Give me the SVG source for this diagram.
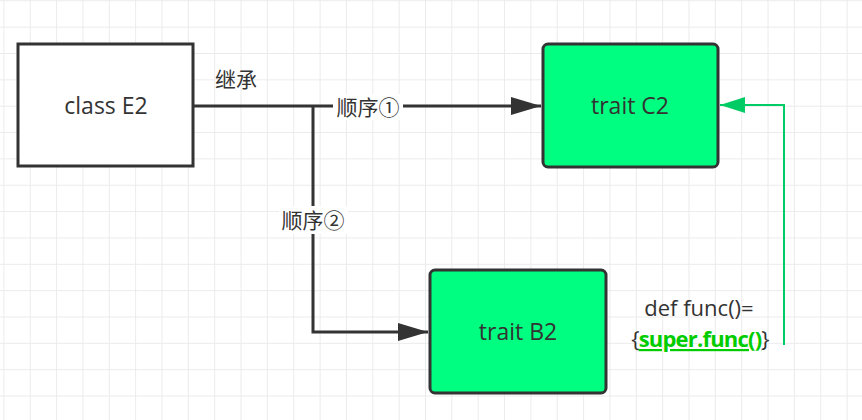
<svg xmlns="http://www.w3.org/2000/svg" width="862" height="420" viewBox="0 0 862 420">
<defs>
<pattern id="grid" x="3.4" y="0.3" width="26.35" height="26.35" patternUnits="userSpaceOnUse">
<path d="M0 0 V26.35 M0 0 H26.35" fill="none" stroke="#ebebeb" stroke-width="2"/>
</pattern>
<marker id="ah" markerWidth="10" markerHeight="6" refX="10" refY="3" orient="auto" markerUnits="strokeWidth">
<path d="M0 0 L10 3 L0 6 Z" fill="#333"/>
</marker>
<marker id="ahg" markerWidth="12.5" markerHeight="8" refX="12.5" refY="4" orient="auto" markerUnits="strokeWidth">
<path d="M0 0 L12.5 4 L0 8 Z" fill="#00cc66"/>
</marker>
</defs>
<style>
.t{font-family:"Open Sans","Noto Sans CJK SC",sans-serif;fill:#333;}
.c{font-family:"Noto Sans CJK SC",sans-serif;fill:#333;}
.node{stroke:#333;stroke-width:3;}
.edge{fill:none;stroke:#333;stroke-width:3;}
</style>
<rect width="862" height="420" fill="#fff"/>
<rect width="862" height="420" fill="url(#grid)"/>
<g id="connectors">
<path class="edge" d="M193 106 H541" marker-end="url(#ah)"/>
<path class="edge" d="M313 106 V332 H428" marker-end="url(#ah)"/>
<path d="M784 345 V105 H720" fill="none" stroke="#00cc66" stroke-width="2" marker-end="url(#ahg)"/>
<text class="c" x="236" y="87" font-size="21" text-anchor="middle">继承</text>
<rect x="333" y="94" width="70" height="26" fill="#fff"/>
<text class="c" x="368" y="114.5" font-size="21" text-anchor="middle">顺序①</text>
<rect x="279" y="206" width="69" height="28" fill="#fff"/>
<text class="c" x="313" y="227.5" font-size="21" text-anchor="middle">顺序②</text>
</g>
<g id="E2">
<rect class="node" x="18" y="44" width="175" height="122" fill="#fff"/>
<text class="t" x="106" y="114" font-size="23" text-anchor="middle">class E2</text>
</g>
<g id="C2">
<rect class="node" x="543" y="44" width="175" height="123" rx="5" fill="#00ff80"/>
<text class="t" x="630" y="114" font-size="23" text-anchor="middle">trait C2</text>
</g>
<g id="B2">
<rect class="node" x="430" y="270" width="176" height="123" rx="5" fill="#00ff80"/>
<text class="t" x="518" y="340" font-size="23" text-anchor="middle">trait B2</text>
</g>
<g id="note">
<text class="t" x="699" y="316" font-size="22" text-anchor="middle">def func()=</text>
<text class="t" x="700" y="347" font-size="22" text-anchor="middle" letter-spacing="-0.8">{<tspan fill="#00cc00" font-weight="bold" text-decoration="underline">super.func()</tspan>}</text>
</g>
</svg>
